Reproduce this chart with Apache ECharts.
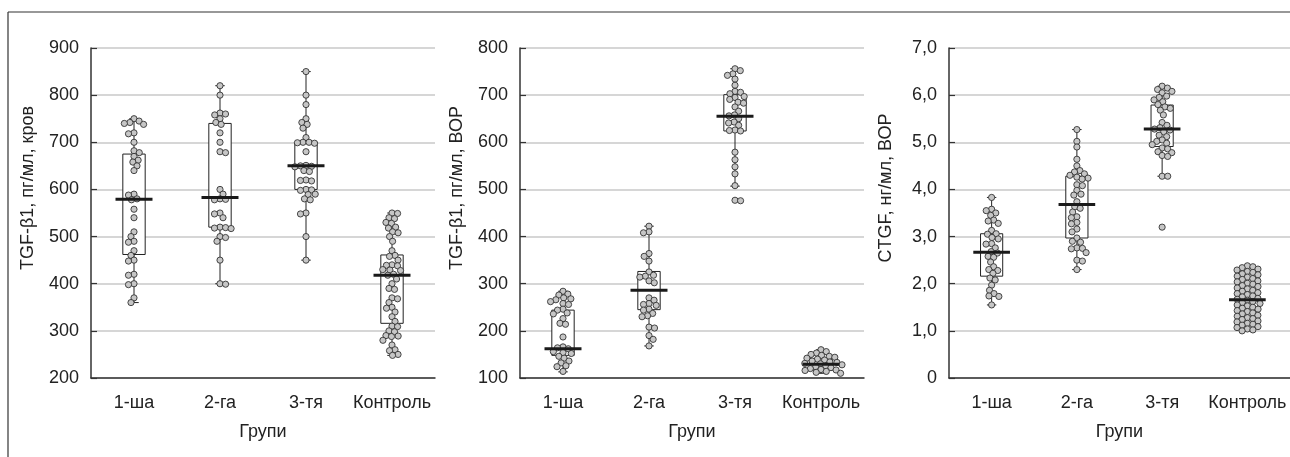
<!DOCTYPE html>
<html><head><meta charset="utf-8">
<script src="https://cdn.jsdelivr.net/npm/echarts@6/dist/echarts.min.js"></script>
<style>html,body{margin:0;padding:0;background:#fff}#c{width:1290px;height:457px}</style>
</head><body><div id="c"></div><script>
const categories = ['1-ша', '2-га', '3-тя', 'Контроль'];
const xName = 'Групи';
const yNames = ['TGF-β1, пг/мл, кров', 'TGF-β1, пг/мл, ВОР', 'CTGF, нг/мл, ВОР'];

// Panel 1: TGF-β1, blood
const p1_g1 = [750,745,742,740,738,720,718,700,682,678,670,662,658,650,640,590,588,580,578,558,540,510,500,490,488,470,460,450,448,420,418,400,398,370,360];
const p1_g2 = [820,800,762,760,758,750,742,738,720,700,680,678,600,590,580,579,578,550,548,540,520,519,518,517,500,498,490,450,400,399];
const p1_g3 = [850,800,780,750,742,738,730,710,700,700,699,698,680,651,650,649,648,640,638,620,619,618,600,599,598,590,589,580,578,550,548,500,450];
const p1_g4 = [550,549,540,538,530,528,520,518,510,508,500,490,470,460,458,450,440,439,438,430,429,428,420,418,410,400,390,388,370,368,360,350,348,340,330,320,310,309,300,298,290,289,288,280,270,260,258,250,248];
// [min, Q1, median, Q3, max]
const p1_box = [[360,462,579,675,750],[400,520,583,740,820],[450,600,650,700,850],[248,316,418,461,550]];

// Panel 2: TGF-β1, ВОР
const p2_g1 = [284,278,276,270,268,266,262,258,256,246,244,238,236,226,216,214,187,166,164,162,156,154,152,146,142,136,132,126,124,114];
const p2_g2 = [422,410,408,364,358,348,325,318,316,314,306,302,270,265,258,256,254,246,244,237,232,230,208,206,190,182,168];
const p2_g3 = [756,752,745,742,734,721,708,706,703,697,695,691,685,683,675,666,658,656,650,643,641,636,626,625,624,579,563,548,533,508,477,476];
const p2_g4 = [160,156,153,150,148,146,144,142,140,138,136,134,133,131,130,128,126,124,122,120,118,117,116,114,112,110];
const p2_box = [[110,117,129,141,160]];
const p2_boxes = [[113,148,162,244,284],[168,245,286,326,422],[507,624,655,701,756],p2_box[0]];

// Panel 3: CTGF, ВОР
const p3_g1 = [3.83,3.58,3.55,3.50,3.45,3.35,3.33,3.28,3.13,3.06,3.05,2.98,2.95,2.85,2.84,2.76,2.68,2.65,2.58,2.56,2.46,2.36,2.30,2.28,2.22,2.12,2.08,1.97,1.86,1.79,1.74,1.73,1.55];
const p3_g2 = [5.27,5.02,4.90,4.64,4.50,4.40,4.37,4.33,4.30,4.26,4.24,4.22,4.10,4.08,3.98,3.90,3.88,3.74,3.63,3.60,3.52,3.42,3.40,3.30,3.27,3.16,3.10,2.97,2.90,2.88,2.76,2.75,2.74,2.66,2.50,2.48,2.30];
const p3_g3 = [6.19,6.15,6.12,6.08,6.05,5.98,5.95,5.90,5.86,5.80,5.75,5.72,5.68,5.58,5.42,5.36,5.31,5.28,5.26,5.22,5.15,5.12,5.05,5.02,4.98,4.95,4.88,4.86,4.80,4.78,4.72,4.70,4.28,4.28,3.20];
const p3_g4 = [2.38,2.36,2.34,2.31,2.29,2.26,2.24,2.21,2.19,2.16,2.14,2.11,2.09,2.06,2.04,2.01,1.99,1.96,1.94,1.91,1.89,1.86,1.84,1.81,1.79,1.77,1.74,1.72,1.69,1.67,1.65,1.62,1.60,1.58,1.55,1.53,1.50,1.48,1.46,1.43,1.41,1.38,1.36,1.33,1.31,1.28,1.26,1.24,1.21,1.19,1.16,1.14,1.12,1.09,1.07,1.04,1.02,1.00];
const p3_box = [[1.55,2.16,2.67,3.06,3.83],[2.30,2.97,3.68,4.28,5.27],[4.28,4.91,5.28,5.79,6.19],[1.00,1.31,1.66,2.00,2.38]];

const yTicks1 = ['200','300','400','500','600','700','800','900'];
const yTicks2 = ['100','200','300','400','500','600','700','800'];
const yTicks3 = ['0','1,0','2,0','3,0','4,0','5,0','6,0','7,0'];

const panels = [
  {groups:[p1_g1,p1_g2,p1_g3,p1_g4], box:p1_box, min:200, max:900, interval:100, ticks:yTicks1, left:91, width:344},
  {groups:[p2_g1,p2_g2,p2_g3,p2_g4], box:p2_boxes, min:100, max:800, interval:100, ticks:yTicks2, left:520, width:344},
  {groups:[p3_g1,p3_g2,p3_g3,p3_g4], box:p3_box, min:0, max:7, interval:1, ticks:yTicks3, left:949, width:341}
];
const GRID_TOP = 48, GRID_H = 330;
const FONT = '"Liberation Sans", Arial, sans-serif';
const DOT_D = 5.6, DOT_R = 3.1;

function swarm(values, pxPerUnit, D){
  const order = values.map((v,i)=>i).sort((a,b)=>values[b]-values[a]);
  const placed = []; const off = new Array(values.length);
  let flip = 1;
  for (const i of order){
    const y = values[i]*pxPerUnit;
    const near = placed.filter(p=>Math.abs(p.y-y) < D);
    const cands = [0];
    near.forEach(p=>{ const dx = Math.sqrt(D*D-(p.y-y)*(p.y-y)); cands.push(p.x+dx, p.x-dx); });
    cands.sort((a,b)=>Math.abs(a)-Math.abs(b) || (a-b)*flip);
    let x = 0;
    for (const c of cands){
      if (near.every(p=>(p.x-c)*(p.x-c)+(p.y-y)*(p.y-y) >= D*D-1e-6)){ x = c; break; }
    }
    flip = -flip;
    placed.push({x,y}); off[i] = x;
  }
  return off;
}

const grid = [], xAxis = [], yAxis = [], series = [];
panels.forEach((P, k)=>{
  grid.push({left:P.left, top:GRID_TOP, width:P.width, height:GRID_H});
  xAxis.push({type:'category', gridIndex:k, data:categories, boundaryGap:true,
    name:xName, nameLocation:'middle', nameGap:45,
    nameTextStyle:{fontFamily:FONT, fontSize:18, color:'#222'},
    axisLine:{lineStyle:{color:'#333', width:1.5}},
    axisTick:{inside:true, length:6, alignWithLabel:true, lineStyle:{color:'#333', width:1.2}},
    axisLabel:{interval:0, fontFamily:FONT, fontSize:18, color:'#222', margin:16},
    splitLine:{show:false}});
  yAxis.push({type:'value', gridIndex:k, min:P.min, max:P.max, interval:P.interval,
    name:yNames[k], nameLocation:'middle', nameGap:54, nameRotate:90,
    nameTextStyle:{fontFamily:FONT, fontSize:18, color:'#222', padding:[0,0,0,50]},
    axisLine:{show:true, lineStyle:{color:'#333', width:1.5}},
    axisTick:{show:true, inside:true, length:6, lineStyle:{color:'#333', width:1.2}},
    axisLabel:{fontFamily:FONT, fontSize:18, color:'#222', margin:12,
      formatter:(v)=>P.ticks[Math.round((v-P.min)/P.interval)]},
    splitLine:{show:true, lineStyle:{color:'#c8c8c8', width:1.5}}});
  const pxPerUnit = GRID_H/(P.max-P.min);
  // boxes + whiskers
  series.push({type:'custom', xAxisIndex:k, yAxisIndex:k, z:2,
    data:P.box.map((b,i)=>[i, b[0], b[1], b[2], b[3], b[4]]),
    encode:{x:0, y:[1,5]},
    renderItem:(params, api)=>{
      const x = api.value(0);
      const band = api.size([1,0])[0];
      const pMin = api.coord([x, api.value(1)]), pQ1 = api.coord([x, api.value(2)]);
      const pQ3 = api.coord([x, api.value(4)]), pMax = api.coord([x, api.value(5)]);
      const cx = pMin[0], bw = band*0.26, cw = band*0.11;
      const st = {stroke:'#222', lineWidth:1, fill:null};
      return {type:'group', children:[
        {type:'line', shape:{x1:cx, y1:pMax[1], x2:cx, y2:pMin[1]}, style:st},
        {type:'line', shape:{x1:cx-cw/2, y1:pMax[1], x2:cx+cw/2, y2:pMax[1]}, style:st},
        {type:'line', shape:{x1:cx-cw/2, y1:pMin[1], x2:cx+cw/2, y2:pMin[1]}, style:st},
        {type:'rect', shape:{x:cx-bw/2, y:pQ3[1], width:bw, height:pQ1[1]-pQ3[1]}, style:{stroke:'#222', lineWidth:1, fill:'#fff'}}
      ]};
    }});
  // points
  const pts = [];
  P.groups.forEach((vals, gi)=>{
    const off = swarm(vals, pxPerUnit, DOT_D);
    vals.forEach((v, j)=>pts.push([gi, v, off[j]]));
  });
  series.push({type:'custom', xAxisIndex:k, yAxisIndex:k, z:3, data:pts, encode:{x:0, y:1},
    renderItem:(params, api)=>{
      const p = api.coord([api.value(0), api.value(1)]);
      return {type:'circle', shape:{cx:p[0]+api.value(2), cy:p[1], r:DOT_R},
        style:{fill:'#c6c6c6', stroke:'#333', lineWidth:0.9}};
    }});
  // medians
  series.push({type:'custom', xAxisIndex:k, yAxisIndex:k, z:4,
    data:P.box.map((b,i)=>[i, b[2]]), encode:{x:0, y:1},
    renderItem:(params, api)=>{
      const band = api.size([1,0])[0];
      const p = api.coord([api.value(0), api.value(1)]);
      const w = band*0.43;
      return {type:'line', shape:{x1:p[0]-w/2, y1:p[1], x2:p[0]+w/2, y2:p[1]}, style:{stroke:'#1a1a1a', lineWidth:3}};
    }});
});

const chart = echarts.init(document.getElementById('c'), null, {renderer:'canvas'});
chart.setOption({
  animation:false,
  backgroundColor:'#fff',
  grid, xAxis, yAxis, series,
  graphic:[
    {type:'line', shape:{x1:8, y1:12, x2:1290, y2:12}, style:{stroke:'#333', lineWidth:1.2}},
    {type:'line', shape:{x1:8, y1:12, x2:8, y2:457}, style:{stroke:'#333', lineWidth:1.2}}
  ]
});
</script></body></html>
